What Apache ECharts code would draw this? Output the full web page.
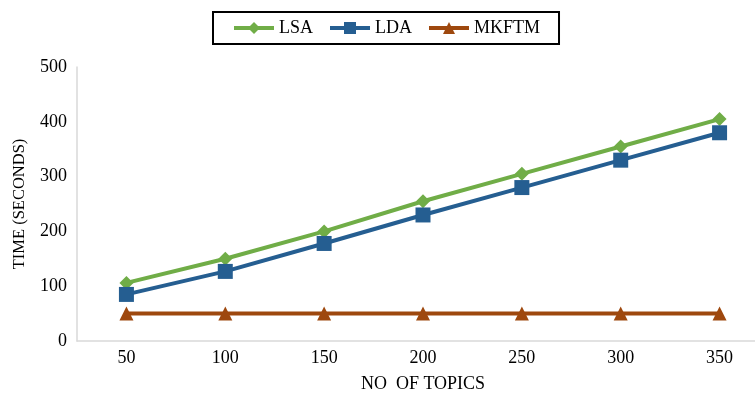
<!DOCTYPE html>
<html><head><meta charset="utf-8">
<script src="https://cdn.jsdelivr.net/npm/echarts@6/dist/echarts.min.js"></script>
<style>html,body{margin:0;padding:0;background:#fff}#c{width:755px;height:394px}</style>
</head><body><div id="c"></div>
<script>
const categories = ['50','100','150','200','250','300','350'];
const lsa = [106, 150, 200, 255, 305, 355, 405];
const lda = [85, 127, 178, 230, 280, 330, 380];
const mkftm = [50, 50, 50, 50, 50, 50, 50];
const seriesNames = ['LSA','LDA','MKFTM'];

const font = 'Liberation Serif';
const chart = echarts.init(document.getElementById('c'));
function mk(name, data, color, symbol, size){
  return {name, type:'line', data, symbol, symbolSize:size, showSymbol:true,
    lineStyle:{color, width:4}, itemStyle:{color}, z: 2, animation:false};
}
chart.setOption({
  animation:false,
  textStyle:{fontFamily:font},
  legend:{
    top:12, left:213, padding:[7,19,7,19], itemGap:15, itemWidth:40, itemHeight:15,
    borderColor:'#000', borderWidth:2,
    textStyle:{fontFamily:font, fontSize:18, color:'#000'},
    lineStyle:{width:4},
    data: seriesNames
  },
  grid:{left:77, top:67, width:692, height:274, containLabel:false, outerBoundsMode:'none'},
  xAxis:{
    type:'category', data:categories, boundaryGap:true,
    axisLine:{lineStyle:{color:'#d9d9d9', width:1.5}}, axisTick:{show:false},
    axisLabel:{fontFamily:font, fontSize:18, color:'#000', margin:8},
    name:'NO  OF TOPICS', nameLocation:'middle', nameGap:34,
    nameTextStyle:{fontFamily:font, fontSize:18, color:'#000'}
  },
  yAxis:{
    type:'value', min:0, max:500, interval:100,
    axisLine:{show:true, lineStyle:{color:'#d9d9d9', width:1.5}}, axisTick:{show:false},
    splitLine:{show:false},
    axisLabel:{fontFamily:font, fontSize:18, color:'#000', margin:10},
    name:'TIME (SECONDS)', nameLocation:'middle', nameGap:49, nameRotate:90,
    nameTextStyle:{fontFamily:font, fontSize:16.5, color:'#000'}
  },
  series:[
    mk('LSA', lsa, '#70AD47', 'diamond', 14),
    mk('LDA', lda, '#255E91', 'rect', 15),
    mk('MKFTM', mkftm, '#9E480E', 'triangle', 14)
  ]
});
</script></body></html>
